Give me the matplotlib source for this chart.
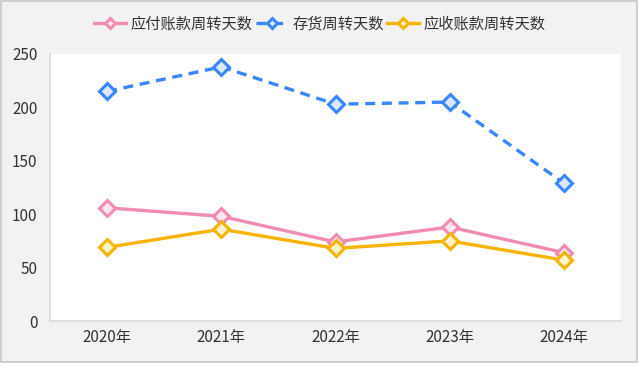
import numpy as np
import matplotlib
matplotlib.use("Agg")
from matplotlib import pyplot as plt
from matplotlib.patches import Rectangle

plt.rcParams['font.family'] = ['Noto Sans CJK SC', 'DejaVu Sans']

years = ["2020年", "2021年", "2022年", "2023年", "2024年"]
payable_days = [106, 98, 74, 88, 64]
inventory_days = [215, 238, 203, 205, 129]
receivable_days = [69, 86, 68, 75, 57]

fig = plt.figure(figsize=(6.4, 3.75), dpi=100, facecolor="white")
# grey panel behind the chart
fig.patches.append(Rectangle((1/640, 13/375), 636/640, 361/375, transform=fig.transFigure,
                             facecolor="#f2f2f2", edgecolor="#c6c6c6", lw=1.2, zorder=-10))
ax = fig.add_axes([50/640, 54/375, 571/640, 267/375])
ax.set_facecolor("white")

x = np.arange(len(years))
ax.plot(x, payable_days, color="#f08cb4", lw=2.4, marker="D", ms=8, mew=2.2,
        mfc="#fde6ef", mec="#f08cb4", label="应付账款周转天数")
ax.plot(x, inventory_days, color="#3a86ff", lw=2.4, ls=(0, (3, 2)), marker="D", ms=8, mew=2.2,
        mfc="#dbe8ff", mec="#3a86ff", label="存货周转天数")
ax.plot(x, receivable_days, color="#f5b400", lw=2.4, marker="D", ms=8, mew=2.2,
        mfc="#fff3cc", mec="#f5b400", label="应收账款周转天数")

ax.set_xlim(-0.5, 4.5)
ax.set_ylim(0, 250)
ax.set_yticks(range(0, 251, 50))
ax.set_xticks(x)
ax.set_xticklabels(years)
ax.tick_params(length=0, labelsize=11, colors="#333333")
ax.tick_params(axis="y", pad=9)
ax.tick_params(axis="x", pad=6)
for side in ["top", "right"]:
    ax.spines[side].set_visible(False)
for side in ["left", "bottom"]:
    ax.spines[side].set_color("#d9d9d9")
    ax.spines[side].set_linewidth(1.2)

fig.legend(loc="upper center", bbox_to_anchor=(0.5, 0.995), ncol=3, frameon=False,
           fontsize=11, handlelength=2.1, columnspacing=0.2, handletextpad=0.3,
           markerscale=0.6, labelcolor="#333333")

plt.savefig("out.png", facecolor=fig.get_facecolor())
